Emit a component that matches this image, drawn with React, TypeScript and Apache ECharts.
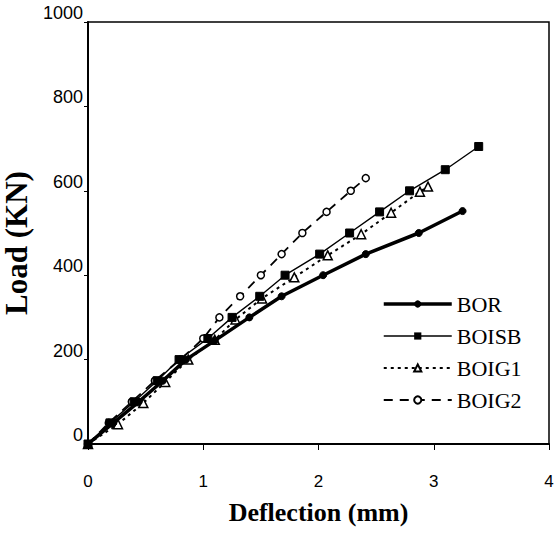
import React, { useEffect, useRef } from "react";
import * as echarts from "echarts";

const seriesNames = ["BOR", "BOISB", "BOIG1", "BOIG2"];

const borX = [0, 0.22, 0.44, 0.65, 0.85, 1.1, 1.4, 1.68, 2.04, 2.41, 2.87, 3.25];
const borY = [0, 50, 100, 150, 200, 245, 300, 350, 400, 450, 500, 552];

const boisbX = [0, 0.19, 0.4, 0.6, 0.79, 1.04, 1.25, 1.49, 1.71, 2.01, 2.27, 2.53, 2.79, 3.1, 3.39];
const boisbY = [0, 50, 100, 150, 200, 250, 300, 350, 400, 450, 500, 550, 600, 650, 705];

const boig1X = [0, 0.26, 0.48, 0.67, 0.87, 1.1, 1.28, 1.51, 1.79, 2.08, 2.37, 2.63, 2.88, 2.95];
const boig1Y = [0, 47, 97, 147, 200, 247, 295, 345, 395, 447, 497, 548, 598, 610];

const boig2X = [0, 0.18, 0.38, 0.58, 0.8, 1.0, 1.14, 1.32, 1.5, 1.68, 1.86, 2.07, 2.28, 2.41];
const boig2Y = [0, 50, 100, 150, 200, 250, 300, 350, 400, 450, 500, 550, 600, 630];

const xTicks = [0, 1, 2, 3, 4];
const yTicks = [0, 200, 400, 600, 800, 1000];

const lineWidths = [3.5, 1.4, 2, 1.8];

const zip = (xs: number[], ys: number[]) => xs.map((x, i) => [x, ys[i]]);

export default function App() {
  const ref = useRef<HTMLDivElement>(null);
  useEffect(() => {
    if (!ref.current) return;
    const chart = echarts.init(ref.current, null, { renderer: "svg" });
    const serif = "'Liberation Serif', 'DejaVu Serif', serif";
    const sans = "'Liberation Sans', Arial, sans-serif";
    chart.setOption({
      animation: false,
      backgroundColor: "#fff",
      grid: {
        left: 88,
        right: 11,
        top: 22,
        bottom: 89,
        containLabel: false,
        outerBoundsMode: "none",
        show: true,
        borderColor: "#000",
        borderWidth: 1.5,
        backgroundColor: "transparent",
      },
      legend: {
        orient: "vertical",
        left: 382,
        top: 293,
        padding: 0,
        itemWidth: 68,
        itemHeight: 9,
        itemGap: 10,
        data: seriesNames.map((n, i) => ({ name: n, lineStyle: { width: lineWidths[i] } })),
        textStyle: { fontFamily: serif, fontSize: 22, color: "#000" },
      },
      xAxis: {
        type: "value",
        min: xTicks[0],
        max: xTicks[xTicks.length - 1],
        interval: 1,
        name: "Deflection (mm)",
        nameLocation: "middle",
        nameGap: 55,
        nameTextStyle: { fontFamily: serif, fontWeight: "bold", fontSize: 26, color: "#000" },
        axisLine: { show: true, lineStyle: { color: "#000", width: 2 } },
        axisTick: { show: true, inside: false, length: 6, lineStyle: { color: "#000", width: 1 } },
        axisLabel: { fontFamily: sans, fontSize: 17, color: "#000", margin: 29, formatter: (v: number) => String(v) },
        splitLine: { show: false },
      },
      yAxis: {
        type: "value",
        min: yTicks[0],
        max: yTicks[yTicks.length - 1],
        interval: 200,
        name: "Load (KN)",
        nameLocation: "middle",
        nameGap: 40,
        nameTextStyle: { fontFamily: serif, fontWeight: "bold", fontSize: 31, color: "#000", padding: [0, 20, 0, 0] },
        axisLine: { show: true, lineStyle: { color: "#000", width: 2 } },
        axisTick: { show: true, inside: false, length: 4, lineStyle: { color: "#000", width: 1 } },
        axisLabel: {
          fontFamily: sans,
          fontSize: 18,
          color: "#000",
          margin: 5,
          verticalAlign: "bottom",
          formatter: (v: number) => String(v),
        },
        splitLine: { show: false },
      },
      series: [
        {
          name: "BOR",
          type: "line",
          data: zip(borX, borY),
          symbol: "circle",
          symbolSize: 7,
          lineStyle: { color: "#000", width: lineWidths[0], type: "solid" },
          itemStyle: { color: "#000", borderColor: "#000" },
          z: 4,
        },
        {
          name: "BOISB",
          type: "line",
          data: zip(boisbX, boisbY),
          symbol: "rect",
          symbolSize: 8,
          lineStyle: { color: "#000", width: lineWidths[1], type: "solid" },
          itemStyle: { color: "#000", borderColor: "#000" },
          z: 3,
        },
        {
          name: "BOIG1",
          type: "line",
          data: zip(boig1X, boig1Y),
          symbol: "triangle",
          symbolSize: 9,
          lineStyle: { color: "#000", width: lineWidths[2], type: [3, 4] },
          itemStyle: { color: "#fff", borderColor: "#000", borderWidth: 1.5 },
          z: 2,
        },
        {
          name: "BOIG2",
          type: "line",
          data: zip(boig2X, boig2Y),
          symbol: "circle",
          symbolSize: 7,
          lineStyle: { color: "#000", width: lineWidths[3], type: [9, 7] },
          itemStyle: { color: "#fff", borderColor: "#000", borderWidth: 1.5 },
          z: 2,
        },
      ],
    });
    return () => chart.dispose();
  }, []);
  return <div ref={ref} style={{ width: 560, height: 533, position: "absolute", left: 0, top: 0 }} />;
}
